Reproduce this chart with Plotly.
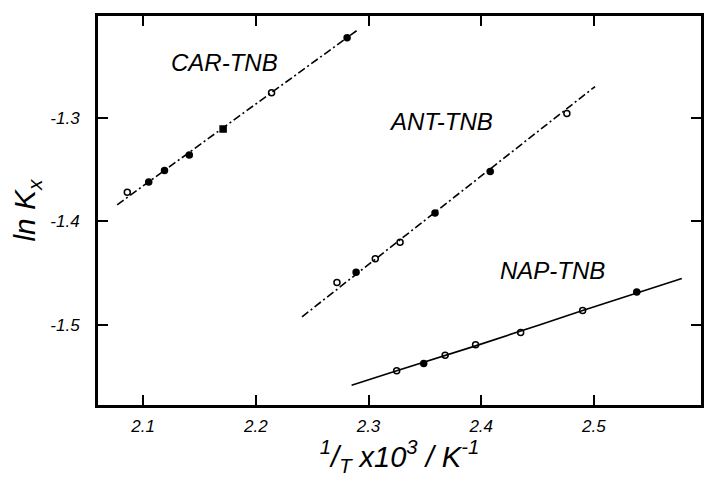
import plotly.graph_objects as go

# ---- data ----
car_x = [2.086, 2.105, 2.119, 2.141, 2.171, 2.214, 2.281]
car_y = [-1.372, -1.362, -1.351, -1.336, -1.311, -1.276, -1.223]
car_sym = ["circle-open", "circle", "circle", "circle", "square", "circle-open", "circle"]
car_fit_x = [2.077, 2.291]
car_fit_y = [-1.384, -1.215]

ant_x = [2.272, 2.289, 2.306, 2.328, 2.359, 2.408, 2.476]
ant_y = [-1.459, -1.449, -1.436, -1.420, -1.392, -1.352, -1.296]
ant_sym = ["circle-open", "circle", "circle-open", "circle-open", "circle", "circle", "circle-open"]
ant_fit_x = [2.241, 2.501]
ant_fit_y = [-1.492, -1.270]

nap_x = [2.325, 2.349, 2.368, 2.395, 2.435, 2.490, 2.538]
nap_y = [-1.544, -1.537, -1.529, -1.519, -1.507, -1.486, -1.468]
nap_sym = ["circle-open", "circle", "circle-open", "circle-open", "circle-open", "circle-open", "circle"]
nap_fit_x = [2.285, 2.325, 2.395, 2.490, 2.578]
nap_fit_y = [-1.558, -1.544, -1.520, -1.486, -1.455]

x_ticks = [2.1, 2.2, 2.3, 2.4, 2.5]
x_ticklabels = ["2.1", "2.2", "2.3", "2.4", "2.5"]
y_ticks = [-1.5, -1.4, -1.3]
y_ticklabels = ["-1.5", "-1.4", "-1.3"]

labels = ["CAR-TNB", "ANT-TNB", "NAP-TNB"]
label_x = [2.172, 2.364, 2.463]
label_y = [-1.247, -1.304, -1.447]

fig = go.Figure()

for fx, fy, dash in [(car_fit_x, car_fit_y, "8px,3px,2px,3px"),
                     (ant_fit_x, ant_fit_y, "8px,3px,2px,3px"),
                     (nap_fit_x, nap_fit_y, "solid")]:
    fig.add_trace(go.Scatter(x=fx, y=fy, mode="lines",
                             line=dict(color="black", width=1.6, dash=dash, shape="spline"),
                             showlegend=False, hoverinfo="skip"))

for px, py, sym in [(car_x, car_y, car_sym), (ant_x, ant_y, ant_sym), (nap_x, nap_y, nap_sym)]:
    fig.add_trace(go.Scatter(x=px, y=py, mode="markers",
                             marker=dict(symbol=sym, size=6, color="black",
                                         line=dict(color="black", width=1.5)),
                             showlegend=False))

for t, lx, ly in zip(labels, label_x, label_y):
    fig.add_annotation(x=lx, y=ly, text="<i>" + t + "</i>", showarrow=False,
                       font=dict(family="Liberation Sans, Arial", size=24, color="black"))

fig.update_layout(
    width=707, height=485,
    margin=dict(l=98, r=3, t=16, b=80),
    plot_bgcolor="white", paper_bgcolor="white",
    font=dict(family="Liberation Sans, Arial", color="black"),
)

fig.update_xaxes(
    range=[2.060, 2.595],
    tickvals=x_ticks, ticktext=["<i>" + s + "</i>" for s in x_ticklabels],
    ticks="inside", ticklen=10, tickwidth=2, tickcolor="black",
    showline=True, linewidth=3, linecolor="black", mirror="ticks",
    showgrid=False, zeroline=False,
    tickfont=dict(size=17, color="black"),
    ticklabelstandoff=4,
    title=dict(text="<i><sup>1</sup>/<sub>T</sub> x10<sup>3</sup> / K<sup>-1</sup></i>",
               font=dict(size=29, color="black"), standoff=6),
)
fig.update_yaxes(
    range=[-1.577, -1.202],
    tickvals=y_ticks, ticktext=["<i>" + s + "</i>" for s in y_ticklabels],
    ticks="inside", ticklen=10, tickwidth=2, tickcolor="black",
    showline=True, linewidth=3, linecolor="black", mirror="ticks",
    showgrid=False, zeroline=False,
    tickfont=dict(size=17, color="black"),
    ticklabelstandoff=12,
    title=dict(text="<i>ln K<sub>x</sub></i>", font=dict(size=30, color="black"), standoff=6),
)

fig.write_html("out.html")
